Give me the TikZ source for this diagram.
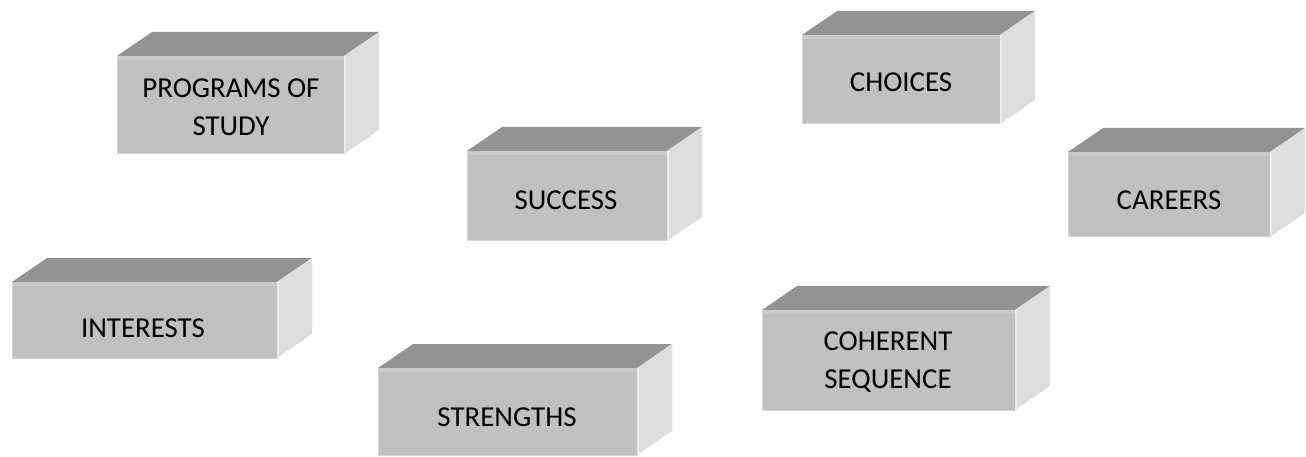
\documentclass[tikz,border=0pt]{standalone}
\usepackage{fontspec}
\setmainfont{Carlito}
\definecolor{topgray}{RGB}{147,147,147}
\definecolor{frontgray}{RGB}{192,192,192}
\definecolor{bevelgray}{RGB}{202,202,202}
\definecolor{sidegray}{RGB}{222,222,222}
\definecolor{sidelight}{RGB}{236,236,236}
\definecolor{edgegray}{RGB}{212,212,212}
% a slab: name, front face x0, y0, x1, y1 (y grows downwards)
\newcommand\slab[5]{%
  \coordinate (#1-nw) at (#2,#3);
  \coordinate (#1-ne) at (#4,#3);
  \coordinate (#1-se) at (#4,#5);
  \coordinate (#1-sw) at (#2,#5);
  \fill[topface] (#1-nw) -- ++(35,-24) -- ($(#1-ne)+(35,-24)$) -- (#1-ne) -- cycle;
  \fill[sideface] (#1-ne) -- ++(35,-24) -- ($(#1-se)+(35,-24)$) -- (#1-se) -- cycle;
  \draw[sidelight, line width=2bp] ($(#1-ne)+(1,0)$) -- ($(#1-se)+(1,0)$);
  \fill[frontface] (#1-nw) rectangle (#1-se);
  \fill[bevelgray] (#1-nw) rectangle ($(#1-ne)+(0,4)$);
  \draw[edgegray, line width=1bp] (#1-nw) -- (#1-sw) -- (#1-se);
}
\begin{document}
\begin{tikzpicture}[x=1bp, y=-1bp,
  topface/.style={fill=topgray},
  sideface/.style={fill=sidegray},
  frontface/.style={fill=frontgray},
  caption/.style={font=\fontsize{29}{38}\selectfont, align=center, inner sep=0pt, text=black}]
\useasboundingbox (0,0) rectangle (1306,457);
\usetikzlibrary{calc}

\slab{programs}{117}{56}{344}{154}
\slab{interests}{12}{282}{277}{358}
\slab{success}{467}{151}{667}{241}
\slab{strengths}{378}{368}{637}{455}
\slab{choices}{802}{35}{1000}{124}
\slab{careers}{1068}{152}{1270}{237}
\slab{coherent}{762}{310}{1015}{410}

\node[caption] (programs-text) at (231,107) {PROGRAMS OF\\STUDY};
\node[caption] (interests-text) at (143,328) {INTERESTS};
\node[caption] (success-text) at (566,200) {SUCCESS};
\node[caption] (strengths-text) at (507,417) {STRENGTHS};
\node[caption] (choices-text) at (901,82) {CHOICES};
\node[caption] (careers-text) at (1169,200) {CAREERS};
\node[caption] (coherent-text) at (888,362) {COHERENT\\SEQUENCE};
\end{tikzpicture}
\end{document}
